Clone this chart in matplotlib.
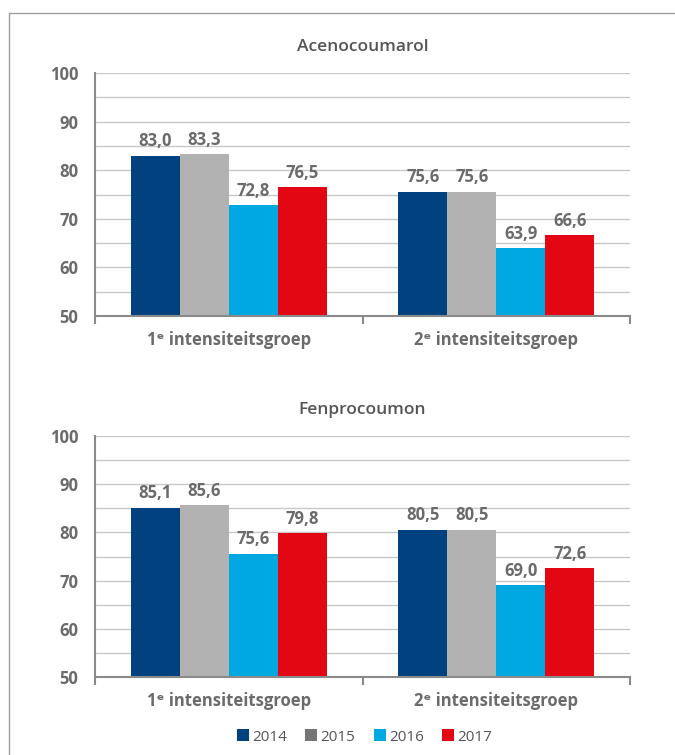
import matplotlib
matplotlib.use("Agg")
import matplotlib.pyplot as plt
import numpy as np
from matplotlib.lines import Line2D
from matplotlib.patches import Patch

categories = ["1ᵉ intensiteitsgroep", "2ᵉ intensiteitsgroep"]
years = ["2014", "2015", "2016", "2017"]
aceno = {"2014": [83.0, 75.6], "2015": [83.3, 75.6], "2016": [72.8, 63.9], "2017": [76.5, 66.6]}
fenpro = {"2014": [85.1, 80.5], "2015": [85.6, 80.5], "2016": [75.6, 69.0], "2017": [79.8, 72.6]}
titles = ["Acenocoumarol", "Fenprocoumon"]
yticks = [50, 60, 70, 80, 90, 100]

colors = ["#00427f", "#b2b2b2", "#00a8e1", "#e30613"]
legend_colors = ["#00427f", "#767676", "#00a8e1", "#e30613"]
txt = "#6b6b6b"
FONT = ["Open Sans", "DejaVu Sans"]
plt.rcParams["font.family"] = FONT

fig = plt.figure(figsize=(6.75, 7.55), dpi=100)
fig.patch.set_facecolor("white")

# outer frame
fig.add_artist(Line2D([9/675, 9/675], [0, 1 - 13/755], transform=fig.transFigure, color="#a0a0a0", lw=1))
fig.add_artist(Line2D([9/675, 1], [1 - 13/755, 1 - 13/755], transform=fig.transFigure, color="#a0a0a0", lw=1))

positions = [[95/675, 1 - 316/755, 535/675, 243/755],
             [95/675, 1 - 677/755, 535/675, 241/755]]
datasets = [aceno, fenpro]
bw = 0.183
x = np.arange(len(categories))

for pos, data, title in zip(positions, datasets, titles):
    ax = fig.add_axes(pos)
    ax.set_xlim(-0.5, 1.5)
    ax.set_ylim(50, 100)
    for yv in np.arange(55, 101, 5):
        ax.axhline(yv, color="#c8c8c8", lw=1, zorder=0)
    for i, (yr, c) in enumerate(zip(years, colors)):
        vals = data[yr]
        xs = x + (i - 1.5) * bw
        ax.bar(xs, [v - 50 for v in vals], bottom=50, width=bw, color=c, zorder=2)
        for xx, v in zip(xs, vals):
            ax.annotate(f"{v:.1f}".replace(".", ","), (xx, v), xytext=(0, 4),
                        textcoords="offset points", ha="center", va="bottom",
                        fontsize=12, fontweight="bold", color=txt, family=FONT)
    for s in ["top", "right"]:
        ax.spines[s].set_visible(False)
    for s in ["left", "bottom"]:
        ax.spines[s].set_color("#8a8a8a")
        ax.spines[s].set_linewidth(1.5)
    ax.set_yticks(yticks)
    ax.set_yticklabels([str(t) for t in yticks], fontsize=12, fontweight="bold", color=txt)
    ax.tick_params(axis="y", length=0, pad=12)
    ax.set_xticks([-0.5, 0.5, 1.5])
    ax.set_xticklabels([])
    ax.tick_params(axis="x", length=6, width=1.5, color="#8a8a8a", direction="out")
    for xi, cat in zip(x, categories):
        ax.text(xi, -0.1, cat, transform=ax.get_xaxis_transform(), ha="center", va="center",
                fontsize=12, fontweight="bold", color=txt, family=FONT)
    ax.set_title(title, fontsize=12.5, color="#555555", pad=16, fontweight="semibold")

handles = [Patch(facecolor=c) for c in legend_colors]
fig.legend(handles, years, loc="center", bbox_to_anchor=(0.54, 1 - 737/755), ncol=4,
           frameon=False, fontsize=11, handlelength=0.8, handleheight=0.8,
           handletextpad=0.2, columnspacing=1.2, labelcolor="#555555")

fig.savefig("out.png", dpi=100)
